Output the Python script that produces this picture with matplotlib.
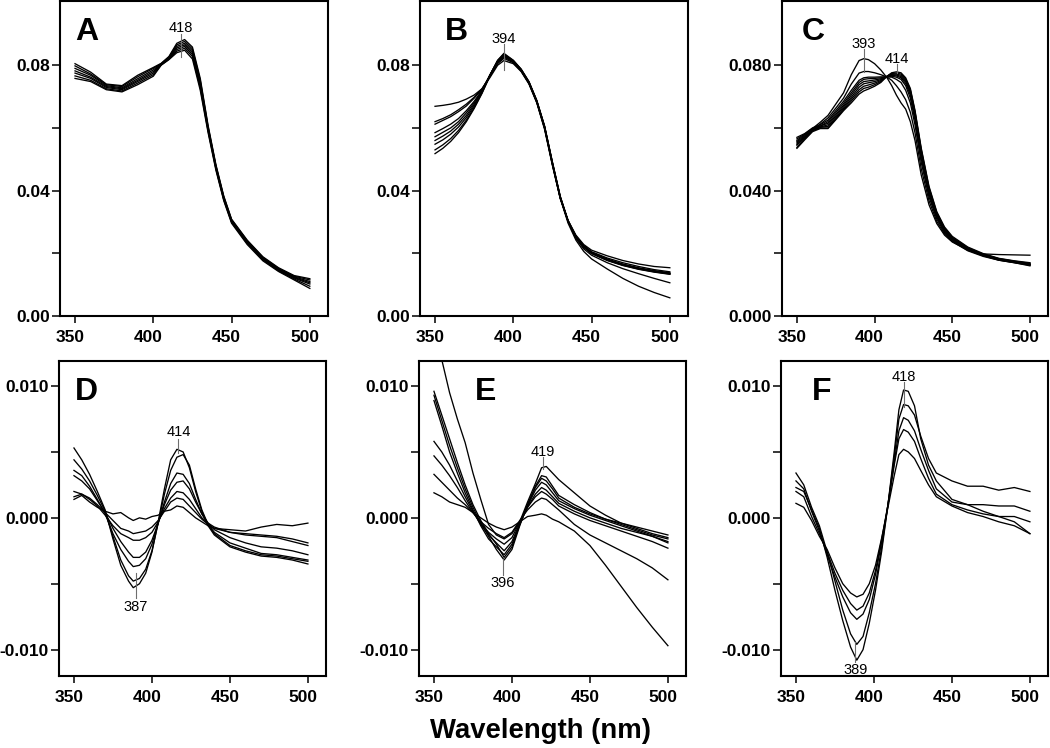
import numpy as np
import matplotlib
matplotlib.use('Agg')
import matplotlib.pyplot as plt
import matplotlib.transforms as mtransforms

plt.rcParams['font.family'] = ['Liberation Sans', 'DejaVu Sans']
plt.rcParams['font.weight'] = 'bold'

# Panel A - absorbance spectra
wlA = [350, 360, 370, 380, 390, 400, 405, 410, 415, 420, 425, 430, 435, 440, 445, 450, 460, 470, 480, 490, 500]
curvesA = [
    [.0805, .0778, .0740, .0735, .0768, .0793, .0806, .0828, .0870, .0882, .0858, .0758, .0608, .0483, .0383, .0309, .0242, .0189, .0154, .0129, .0119],
    [.0798, .0772, .0738, .0732, .0763, .0790, .0805, .0826, .0865, .0876, .0852, .0752, .0604, .0480, .0381, .0307, .0240, .0187, .0152, .0127, .0115],
    [.0790, .0768, .0735, .0728, .0757, .0785, .0804, .0824, .0860, .0870, .0846, .0746, .0600, .0477, .0378, .0305, .0238, .0185, .0150, .0125, .0110],
    [.0782, .0762, .0732, .0725, .0752, .0780, .0803, .0822, .0855, .0865, .0840, .0740, .0597, .0475, .0376, .0303, .0236, .0183, .0148, .0123, .0106],
    [.0775, .0758, .0729, .0722, .0748, .0775, .0802, .0821, .0850, .0860, .0834, .0734, .0594, .0472, .0373, .0301, .0234, .0181, .0146, .0121, .0102],
    [.0766, .0752, .0725, .0718, .0743, .0770, .0801, .0819, .0845, .0854, .0828, .0728, .0590, .0469, .0371, .0299, .0231, .0179, .0144, .0118, .0095],
    [.0758, .0748, .0722, .0715, .0738, .0765, .0800, .0818, .0840, .0848, .0820, .0720, .0585, .0465, .0368, .0296, .0228, .0176, .0142, .0115, .0088],
]

# Panel B
wlB = [350, 355, 360, 365, 370, 375, 380, 385, 390, 394, 400, 405, 410, 415, 420, 425, 430, 435, 440, 445, 450, 460, 470, 480, 490, 500]
curvesB = [
    [.0669, .0672, .0676, .0682, .0692, .0705, .0725, .0760, .0800, .0815, .0805, .0780, .0740, .0680, .0595, .0480, .0375, .0305, .0258, .0228, .0210, .0192, .0177, .0166, .0158, .0154],
    [.0620, .0630, .0642, .0658, .0676, .0698, .0725, .0765, .0805, .0822, .0808, .0782, .0742, .0682, .0598, .0482, .0375, .0303, .0255, .0225, .0205, .0185, .0170, .0158, .0148, .0141],
    [.0612, .0624, .0636, .0652, .0670, .0695, .0723, .0765, .0808, .0826, .0810, .0783, .0743, .0683, .0600, .0484, .0377, .0302, .0254, .0224, .0203, .0182, .0166, .0154, .0145, .0138],
    [.0585, .0598, .0612, .0630, .0655, .0685, .0720, .0768, .0812, .0830, .0812, .0785, .0745, .0685, .0602, .0486, .0378, .0302, .0253, .0222, .0202, .0180, .0164, .0152, .0143, .0136],
    [.0572, .0586, .0600, .0620, .0648, .0680, .0718, .0768, .0814, .0833, .0814, .0786, .0746, .0686, .0604, .0488, .0380, .0303, .0252, .0221, .0201, .0179, .0163, .0151, .0142, .0135],
    [.0560, .0574, .0590, .0612, .0640, .0675, .0716, .0768, .0815, .0836, .0815, .0787, .0747, .0687, .0605, .0490, .0381, .0304, .0252, .0220, .0200, .0178, .0162, .0150, .0141, .0134],
    [.0548, .0562, .0580, .0603, .0633, .0670, .0714, .0768, .0816, .0838, .0816, .0788, .0748, .0688, .0606, .0491, .0382, .0304, .0251, .0219, .0199, .0177, .0161, .0149, .0140, .0133],
    [.0530, .0546, .0566, .0592, .0625, .0665, .0712, .0766, .0812, .0832, .0812, .0784, .0745, .0685, .0603, .0488, .0378, .0300, .0247, .0214, .0194, .0170, .0151, .0135, .0120, .0106],
    [.0518, .0535, .0557, .0585, .0620, .0662, .0710, .0765, .0810, .0830, .0810, .0782, .0743, .0683, .0600, .0485, .0375, .0296, .0242, .0206, .0182, .0150, .0120, .0095, .0075, .0058],
]

# Panel C
wlC = [350, 355, 360, 365, 370, 375, 380, 385, 390, 393, 396, 400, 404, 408, 411, 414, 417, 420, 423, 426, 430, 435, 440, 445, 450, 460, 470, 480, 490, 500]
curvesC = [
    [.0560, .0578, .0598, .0618, .0640, .0676, .0712, .0770, .0815, .0821, .0818, .0805, .0785, .0760, .0735, .0705, .0680, .0660, .0620, .0560, .0450, .0355, .0295, .0258, .0236, .0210, .0198, .0196, .0195, .0194],
    [.0552, .0572, .0594, .0612, .0632, .0663, .0695, .0740, .0775, .0780, .0780, .0776, .0770, .0762, .0752, .0735, .0715, .0690, .0650, .0585, .0470, .0368, .0302, .0262, .0238, .0208, .0190, .0178, .0170, .0160],
    [.0570, .0582, .0600, .0610, .0625, .0655, .0685, .0720, .0752, .0760, .0762, .0762, .0763, .0763, .0762, .0755, .0745, .0720, .0680, .0610, .0490, .0380, .0310, .0266, .0240, .0210, .0192, .0178, .0170, .0162],
    [.0545, .0568, .0592, .0606, .0620, .0649, .0678, .0712, .0745, .0755, .0757, .0758, .0760, .0763, .0765, .0762, .0755, .0735, .0695, .0625, .0503, .0388, .0316, .0270, .0243, .0212, .0193, .0179, .0171, .0163],
    [.0565, .0580, .0598, .0606, .0615, .0643, .0672, .0705, .0738, .0748, .0750, .0753, .0757, .0764, .0768, .0766, .0760, .0742, .0705, .0635, .0512, .0395, .0320, .0273, .0245, .0213, .0194, .0180, .0172, .0164],
    [.0538, .0565, .0590, .0603, .0610, .0638, .0667, .0698, .0730, .0741, .0744, .0748, .0754, .0764, .0770, .0769, .0764, .0748, .0712, .0642, .0520, .0400, .0323, .0275, .0247, .0215, .0195, .0181, .0173, .0165],
    [.0556, .0575, .0595, .0602, .0605, .0633, .0662, .0692, .0722, .0733, .0737, .0743, .0751, .0765, .0772, .0772, .0768, .0752, .0718, .0648, .0527, .0405, .0326, .0278, .0249, .0216, .0196, .0182, .0174, .0166],
    [.0548, .0570, .0592, .0600, .0600, .0629, .0658, .0686, .0715, .0726, .0730, .0738, .0748, .0765, .0774, .0775, .0772, .0756, .0722, .0652, .0532, .0410, .0330, .0281, .0251, .0218, .0197, .0183, .0175, .0168],
    [.0535, .0562, .0588, .0598, .0598, .0626, .0655, .0680, .0708, .0718, .0724, .0733, .0745, .0765, .0776, .0779, .0776, .0760, .0726, .0656, .0536, .0414, .0333, .0284, .0254, .0220, .0199, .0184, .0176, .0170],
]

# Panel D - difference spectra
wlD = [350, 355, 360, 365, 370, 375, 380, 385, 388, 392, 396, 400, 404, 408, 412, 416, 420, 424, 428, 432, 436, 440, 450, 460, 470, 480, 490, 500]
curvesD = [
    [.0014, .0017, .0012, .0008, .0005, .0003, .0004, .0000, -.0002, .0000, -.0001, .0001, .0002, .0005, .0006, .0009, .0008, .0004, .0000, -.0003, -.0006, -.0008, -.0009, -.0010, -.0007, -.0005, -.0006, -.0004],
    [.0016, .0018, .0015, .0010, .0004, -.0002, -.0008, -.0010, -.0012, -.0011, -.0010, -.0007, -.0002, .0005, .0012, .0015, .0014, .0009, .0004, -.0001, -.0005, -.0008, -.0011, -.0012, -.0013, -.0014, -.0016, -.0019],
    [.0020, .0018, .0014, .0009, .0002, -.0006, -.0012, -.0015, -.0017, -.0017, -.0015, -.0011, -.0003, .0007, .0015, .0020, .0019, .0014, .0007, .0000, -.0004, -.0007, -.0011, -.0013, -.0014, -.0015, -.0018, -.0021],
    [.0032, .0028, .0022, .0013, .0004, -.0008, -.0018, -.0026, -.0030, -.0030, -.0026, -.0017, -.0004, .0010, .0021, .0027, .0028, .0022, .0012, .0003, -.0004, -.0009, -.0015, -.0019, -.0022, -.0023, -.0025, -.0028],
    [.0036, .0032, .0024, .0014, .0003, -.0012, -.0024, -.0033, -.0037, -.0036, -.0031, -.0020, -.0004, .0012, .0026, .0034, .0033, .0026, .0014, .0003, -.0005, -.0011, -.0019, -.0023, -.0027, -.0028, -.0030, -.0032],
    [.0044, .0037, .0028, .0017, .0005, -.0014, -.0032, -.0044, -.0048, -.0046, -.0039, -.0025, -.0004, .0018, .0036, .0046, .0048, .0040, .0022, .0006, -.0005, -.0012, -.0021, -.0025, -.0028, -.0029, -.0031, -.0033],
    [.0053, .0044, .0033, .0020, .0006, -.0016, -.0036, -.0048, -.0053, -.0050, -.0042, -.0026, -.0003, .0022, .0044, .0052, .0050, .0038, .0020, .0005, -.0006, -.0013, -.0022, -.0026, -.0029, -.0030, -.0032, -.0035],
]

# Panel E
wlE = [350, 355, 360, 365, 370, 375, 380, 385, 390, 395, 400, 405, 410, 415, 419, 422, 426, 430, 440, 450, 460, 470, 480, 490, 500]
curvesE = [
    [.0150, .0120, .0095, .0075, .0057, .0034, .0014, -.0005, -.0013, -.0016, -.0012, -.0003, .0012, .0026, .0038, .0039, .0034, .0029, .0019, .0009, .0002, -.0004, -.0007, -.0010, -.0013],
    [.0096, .0078, .0060, .0042, .0025, .0010, -.0002, -.0012, -.0020, -.0030, -.0022, -.0005, .0010, .0024, .0032, .0031, .0024, .0017, .0010, .0004, -.0001, -.0004, -.0008, -.0012, -.0015],
    [.0093, .0074, .0055, .0038, .0022, .0008, -.0004, -.0014, -.0024, -.0032, -.0024, -.0006, .0010, .0023, .0030, .0028, .0022, .0015, .0008, .0003, -.0001, -.0005, -.0009, -.0013, -.0016],
    [.0089, .0070, .0050, .0034, .0019, .0006, -.0006, -.0016, -.0022, -.0028, -.0020, -.0005, .0009, .0021, .0027, .0025, .0019, .0013, .0007, .0002, -.0002, -.0006, -.0010, -.0014, -.0018],
    [.0058, .0050, .0040, .0028, .0016, .0005, -.0005, -.0013, -.0019, -.0025, -.0018, -.0004, .0008, .0018, .0023, .0021, .0016, .0011, .0005, .0000, -.0004, -.0008, -.0011, -.0014, -.0019],
    [.0047, .0040, .0032, .0023, .0013, .0004, -.0004, -.0011, -.0016, -.0020, -.0015, -.0003, .0008, .0016, .0020, .0018, .0014, .0009, .0003, -.0002, -.0006, -.0010, -.0014, -.0018, -.0023],
    [.0033, .0027, .0021, .0015, .0010, .0004, -.0003, -.0008, -.0012, -.0015, -.0011, -.0002, .0006, .0012, .0015, .0014, .0010, .0006, -.0005, -.0013, -.0019, -.0025, -.0031, -.0038, -.0047],
    [.0019, .0016, .0012, .0010, .0008, .0004, .0000, -.0004, -.0007, -.0009, -.0007, -.0003, .0001, .0002, .0003, .0002, -.0001, -.0003, -.0010, -.0021, -.0036, -.0052, -.0068, -.0083, -.0097],
]

# Panel F
wlF = [350, 355, 360, 365, 370, 375, 380, 385, 389, 393, 397, 401, 405, 409, 413, 416, 419, 422, 426, 430, 435, 440, 450, 460, 470, 480, 490, 500]
curvesF = [
    [.0023, .0020, .0006, -.0008, -.0030, -.0055, -.0078, -.0098, -.0108, -.0100, -.0080, -.0055, -.0025, .0010, .0050, .0082, .0097, .0096, .0085, .0060, .0040, .0028, .0014, .0010, .0005, .0001, -.0003, -.0012],
    [.0034, .0025, .0008, -.0006, -.0026, -.0048, -.0070, -.0088, -.0096, -.0090, -.0072, -.0050, -.0022, .0010, .0046, .0075, .0086, .0085, .0078, .0062, .0045, .0034, .0028, .0024, .0024, .0021, .0023, .0020],
    [.0028, .0022, .0005, -.0010, -.0028, -.0045, -.0060, -.0072, -.0077, -.0073, -.0062, -.0043, -.0018, .0010, .0042, .0066, .0076, .0074, .0066, .0052, .0036, .0022, .0012, .0010, .0010, .0009, .0009, .0005],
    [.0020, .0016, .0001, -.0012, -.0026, -.0042, -.0055, -.0065, -.0070, -.0067, -.0057, -.0040, -.0016, .0010, .0040, .0060, .0067, .0065, .0058, .0045, .0030, .0018, .0010, .0006, .0003, .0001, .0001, -.0003],
    [.0011, .0008, -.0002, -.0014, -.0024, -.0038, -.0050, -.0057, -.0060, -.0058, -.0050, -.0036, -.0015, .0008, .0032, .0048, .0052, .0050, .0045, .0036, .0025, .0016, .0009, .0004, .0001, -.0003, -.0006, -.0012],
]

# Peak labels: (text, x, text y, line top, line bottom, below)
peaksA = [('418', 417.5, .0905, .0900, .0826, False)]
peaksB = [('394', 394, .0870, .0867, .0784, False)]
peaksC = [('393', 393, .0854, .0851, .0778, False), ('414', 414.5, .0806, .0803, .0775, False)]
peaksD = [('414', 417, .0062, .0060, .0049, False), ('387', 389.5, -.0062, -.0042, -.0061, True)]
peaksE = [('419', 420, .0047, .0046, .0037, False), ('396', 394, -.0044, -.0031, -.0043, True)]
peaksF = [('418', 419, .0104, .0103, .0084, False), ('389', 388, -.0110, -.0094, -.0109, True)]

topTicks = [0, .02, .04, .06, .08]
bottomTicks = [-.01, -.005, 0, .005, .01]

panels = [
    # letter, wavelengths, curves, peaks, box (l, t, r, b px), letter x, ticks, tick labels, ylim
    ('A', wlA, curvesA, peaksA, (60, 1, 328, 316), .056, topTicks, ['0.00', '', '0.04', '', '0.08'], (0, .1005)),
    ('B', wlB, curvesB, peaksB, (420, 1, 688, 316), .093, topTicks, ['0.00', '', '0.04', '', '0.08'], (0, .1005)),
    ('C', wlC, curvesC, peaksC, (782, 1, 1048, 316), .075, topTicks, ['0.000', '', '0.040', '', '0.080'], (0, .1005)),
    ('D', wlD, curvesD, peaksD, (59, 361, 326, 676), .060, bottomTicks, ['-0.010', '', '0.000', '', '0.010'], (-.0120, .0119)),
    ('E', wlE, curvesE, peaksE, (419, 361, 686, 676), .210, bottomTicks, ['-0.010', '', '0.000', '', '0.010'], (-.0120, .0119)),
    ('F', wlF, curvesF, peaksF, (781, 361, 1048, 676), .116, bottomTicks, ['-0.010', '', '0.000', '', '0.010'], (-.0120, .0119)),
]

W, H = 1050, 748
fig = plt.figure(figsize=(W / 100, H / 100), dpi=100)
# x tick labels in the original sit a few pixels left of their ticks
shiftLeft = mtransforms.ScaledTranslation(-5 / 100, 0, fig.dpi_scale_trans)

for letter, wl, curves, peaks, box, letterX, ticks, tickLabels, ylim in panels:
    l, t, r, b = box
    ax = fig.add_axes([l / W, 1 - b / H, (r - l) / W, (b - t) / H])

    for c in curves:
        ax.plot(wl, c, color='black', lw=0.95)

    for label, x, ty, y1, y2, below in peaks:
        ax.plot([x, x], [y1, y2], color='#6e6e6e', lw=0.8)
        ax.text(x, ty, label, ha='center', va='top' if below else 'baseline',
                fontsize=10.5, fontweight='normal')

    ax.text(letterX, .877, letter, transform=ax.transAxes, fontsize=23,
            fontweight='bold', va='baseline', ha='left')

    ax.set_xlim(340.4, 511.6)
    ax.set_ylim(*ylim)
    ax.set_xticks([350, 400, 450, 500])
    ax.set_yticks(ticks)
    ax.set_yticklabels(tickLabels)
    ax.tick_params(axis='y', direction='out', length=5.8, width=1.1, labelsize=12.5, pad=1.5)
    ax.tick_params(axis='x', direction='out', length=5, width=1.1, labelsize=12.5, pad=5)
    for lbl in ax.get_xticklabels():
        lbl.set_transform(lbl.get_transform() + shiftLeft)
    for s in ax.spines.values():
        s.set_linewidth(1.5)

fig.text(540 / W, 1 - 738 / H, 'Wavelength (nm)', ha='center', va='baseline',
         fontsize=19.8, fontweight='bold')

fig.savefig('out.png', dpi=100)
